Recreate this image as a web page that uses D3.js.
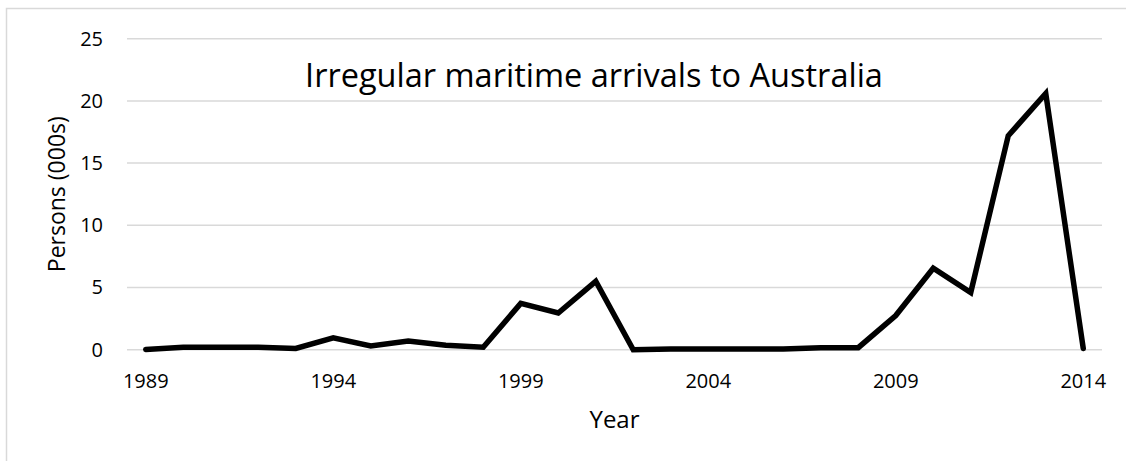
<!DOCTYPE html>
<html>
<head>
<meta charset="utf-8">
<script src="https://cdn.jsdelivr.net/npm/d3@7"></script>
<style>
  body { margin: 0; background: #fff; overflow: hidden; }
  svg { display: block; }
  svg text { font-family: "Open Sans", sans-serif; fill: #000; }
</style>
</head>
<body>
<div id="chart"></div>
<script>
// Years on the category axis
const years = d3.range(1989, 2015).map(String);
// Arrivals in thousands of persons
const arrivals = [0.02, 0.2, 0.2, 0.2, 0.1, 0.95, 0.3, 0.7, 0.35, 0.2,
                  3.72, 2.95, 5.5, 0.0, 0.05, 0.05, 0.05, 0.05, 0.15, 0.16,
                  2.75, 6.55, 4.6, 17.2, 20.6, 0.1];
const xTickLabels = ["1989", "1994", "1999", "2004", "2009", "2014"];
const yTicks = [0, 5, 10, 15, 20, 25];

const width = 1126, height = 461;
const margin = {top: 38.7, right: 24, bottom: 111.3, left: 127};
const innerWidth = width - margin.left - margin.right;
const innerHeight = height - margin.top - margin.bottom;

const svg = d3.select("#chart")
    .append("svg")
    .attr("width", width)
    .attr("height", height);

// outer chart border (runs off the right and bottom edges, as in the picture)
svg.append("path")
    .attr("d", `M${width},8.5 H6.5 V${height}`)
    .attr("fill", "none")
    .attr("stroke", "#d9d9d9")
    .attr("stroke-width", 1.5);

const innerChart = svg.append("g")
    .attr("transform", `translate(${margin.left},${margin.top})`);

/*****************/
/* Define scales */
/*****************/
const xScale = d3.scaleBand()
    .domain(years)
    .range([0, innerWidth]);

const yScale = d3.scaleLinear()
    .domain([0, 25])
    .range([innerHeight, 0]);

/*************/
/* Gridlines */
/*************/
innerChart.append("g")
    .selectAll("line")
    .data(yTicks)
    .join("line")
        .attr("x1", 0)
        .attr("x2", innerWidth)
        .attr("y1", d => yScale(d))
        .attr("y2", d => yScale(d))
        .attr("stroke", "#d9d9d9")
        .attr("stroke-width", 1.5);

/************/
/* Add axes */
/************/
const bottomAxis = d3.axisBottom(xScale)
    .tickValues(xTickLabels)
    .tickSize(0)
    .tickPadding(24);

innerChart.append("g")
    .attr("transform", `translate(0,${innerHeight})`)
    .call(bottomAxis)
    .call(g => g.select(".domain").remove())
    .selectAll("text")
        .style("font-size", "20px")
        .attr("fill", "#000");

const leftAxis = d3.axisLeft(yScale)
    .tickValues(yTicks)
    .tickSize(0)
    .tickPadding(24);

innerChart.append("g")
    .call(leftAxis)
    .call(g => g.select(".domain").remove())
    .selectAll("text")
        .style("font-size", "20px")
        .attr("fill", "#000");

/*****************/
/* Draw the line */
/*****************/
const lineGenerator = d3.line()
    .x((d, i) => xScale(years[i]) + xScale.bandwidth() / 2)
    .y(d => yScale(d));

innerChart.append("path")
    .datum(arrivals)
    .attr("d", lineGenerator)
    .attr("fill", "none")
    .attr("stroke", "#000")
    .attr("stroke-width", 5.5)
    .attr("stroke-linejoin", "miter")
    .attr("stroke-linecap", "round");

/**********/
/* Labels */
/**********/
svg.append("text")
    .text("Irregular maritime arrivals to Australia")
    .attr("x", 594)
    .attr("y", 87)
    .attr("text-anchor", "middle")
    .style("font-size", "32.5px");

svg.append("text")
    .text("Year")
    .attr("x", margin.left + innerWidth / 2)
    .attr("y", 428)
    .attr("text-anchor", "middle")
    .style("font-size", "24px");

svg.append("text")
    .text("Persons (000s)")
    .attr("transform", `translate(65,${margin.top + innerHeight / 2}) rotate(-90)`)
    .attr("text-anchor", "middle")
    .style("font-size", "23px");
</script>
</body>
</html>
